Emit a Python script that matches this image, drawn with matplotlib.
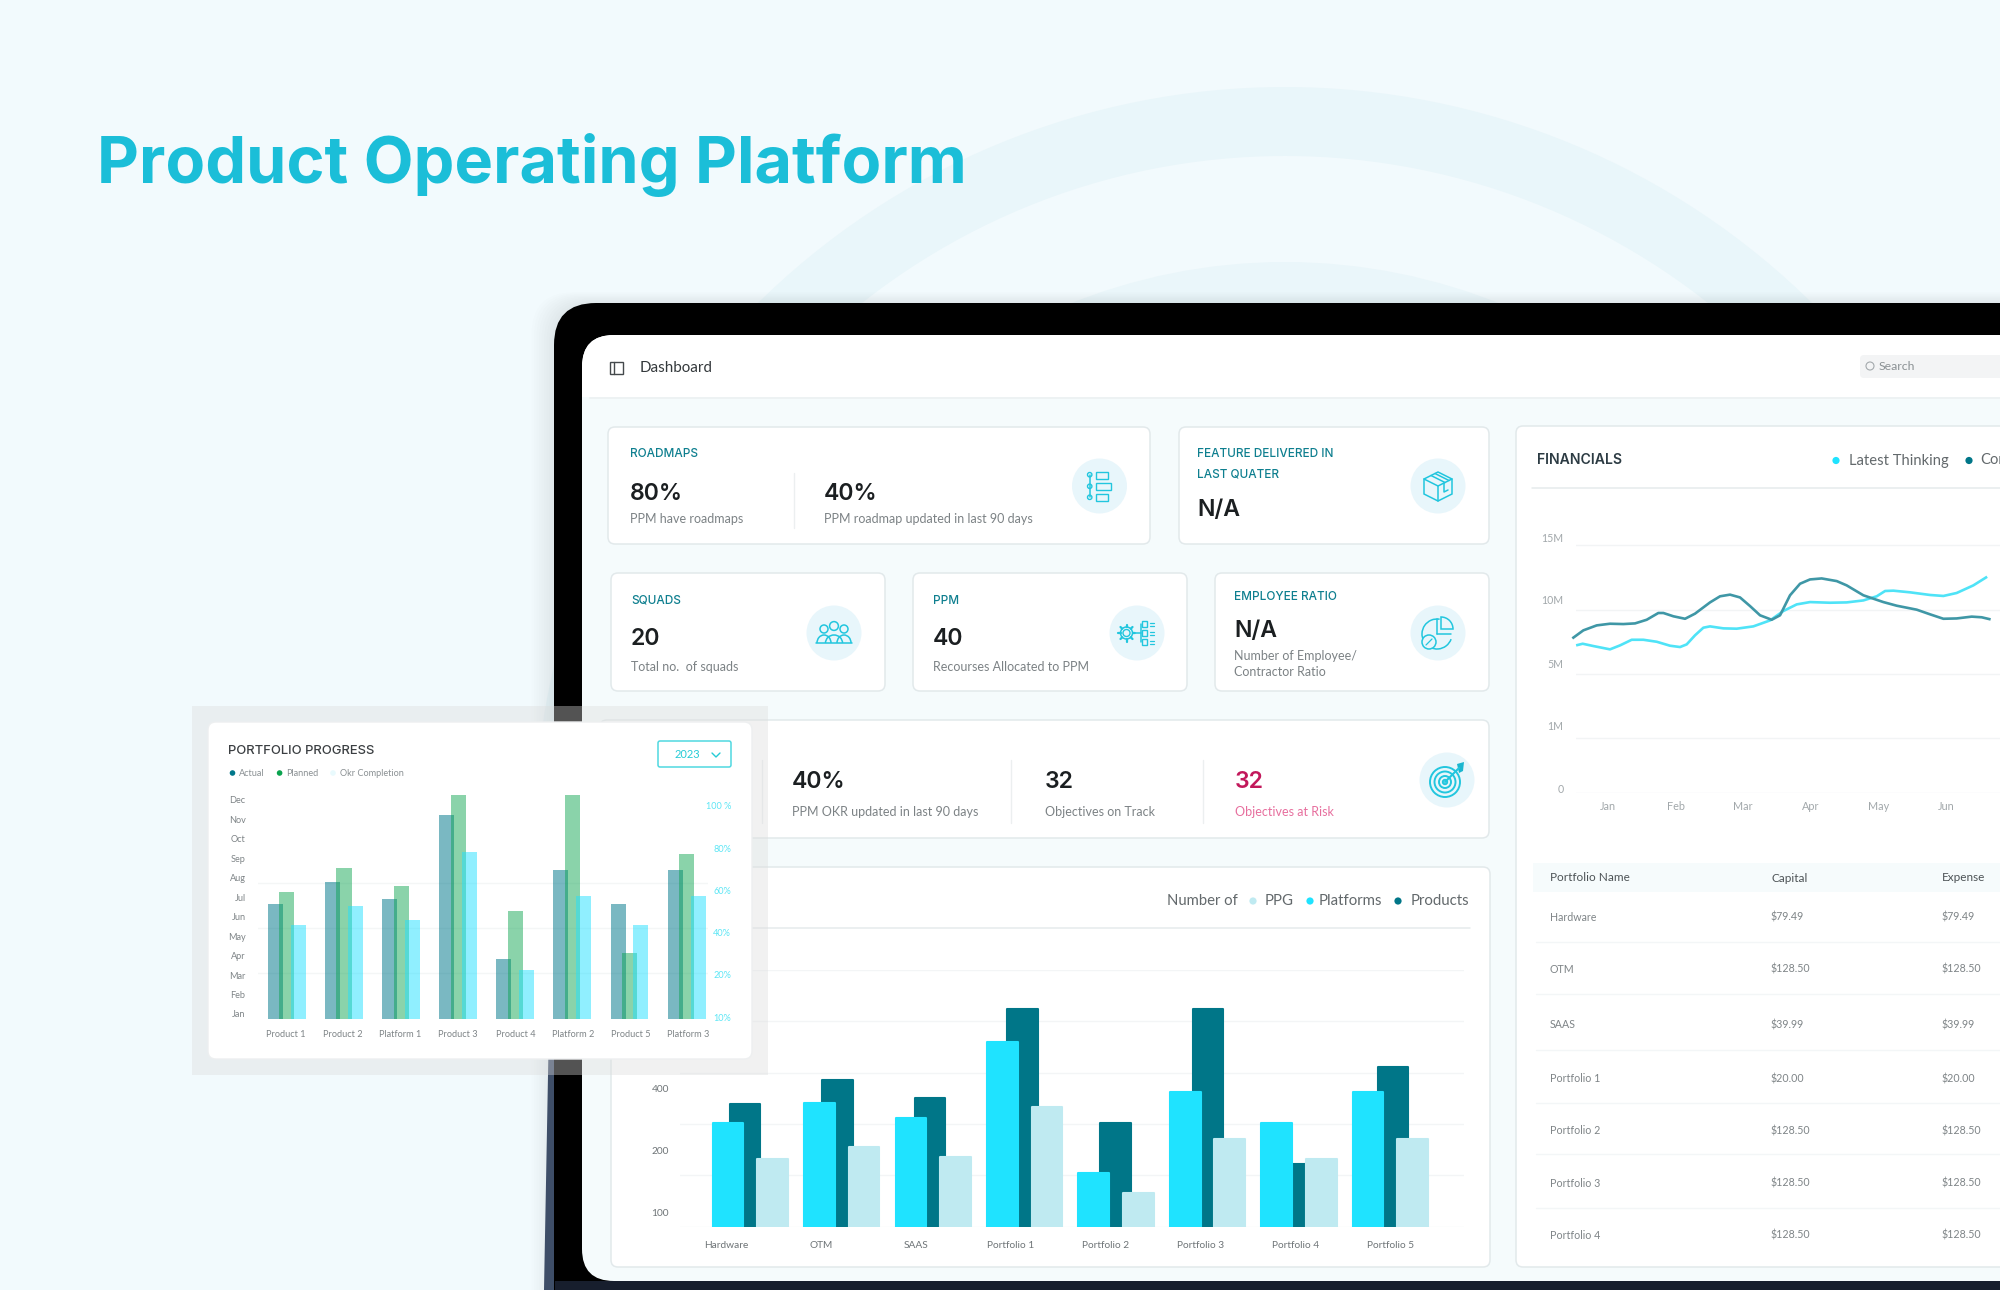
import numpy as np
import matplotlib
matplotlib.use('Agg')
import matplotlib.pyplot as plt
from matplotlib.patches import FancyBboxPatch, Rectangle, Circle, Polygon, Arc, Wedge
from matplotlib.lines import Line2D

# ---------- data ----------
main_categories = ['Hardware', 'OTM', 'SAAS', 'Portfolio 1', 'Portfolio 2', 'Portfolio 3', 'Portfolio 4', 'Portfolio 5']
products = [239, 285, 251, 425, 202, 425, 123, 312]
platforms = [202, 241, 211, 359, 104, 263, 202, 263]
ppg = [131, 156, 136, 233, 66, 170, 131, 170]
main_ytick_labels = ['100', '200', '400']

progress_categories = ['Product 1', 'Product 2', 'Platform 1', 'Product 3', 'Product 4', 'Platform 2', 'Product 5', 'Platform 3']
actual = [5.65, 6.79, 5.92, 10.2, 2.81, 7.41, 5.65, 7.41]
planned = [6.24, 7.49, 6.55, 11.26, 5.27, 11.26, 3.11, 8.2]
okr_completion = [43.8, 52.5, 46, 78, 22.2, 57.2, 43.7, 57.2]
months_full = ['Jan', 'Feb', 'Mar', 'Apr', 'May', 'Jun', 'Jul', 'Aug', 'Sep', 'Oct', 'Nov', 'Dec']
pct_labels = ['10%', '20%', '40%', '60%', '80%', '100 %']

fin_months = ['Jan', 'Feb', 'Mar', 'Apr', 'May', 'Jun']
fin_ylabels = ['0', '1M', '5M', '10M', '15M']
latest_x = [-0.447, -0.369, -0.211, 0.034, 0.182, 0.354, 0.526, 0.723, 0.919, 1.067, 1.165, 1.288, 1.411, 1.509, 1.706, 1.903, 2.148, 2.394, 2.591, 2.788, 2.984, 3.279, 3.525, 3.771, 3.968, 4.091, 4.213, 4.459, 4.754, 4.951, 5.147, 5.393, 5.580]
latest_y = [8.95, 9.03, 8.89, 8.69, 8.93, 9.27, 9.27, 9.15, 8.91, 8.83, 8.99, 9.54, 10.0, 10.08, 9.96, 9.94, 10.08, 10.44, 11.01, 11.41, 11.55, 11.51, 11.53, 11.65, 11.9, 12.22, 12.24, 12.14, 11.98, 11.92, 12.1, 12.56, 13.04]
core_x = [-0.506, -0.359, -0.162, 0.034, 0.231, 0.403, 0.575, 0.747, 0.821, 0.969, 1.141, 1.288, 1.509, 1.657, 1.804, 1.952, 2.099, 2.247, 2.419, 2.542, 2.689, 2.837, 2.984, 3.156, 3.378, 3.525, 3.771, 4.066, 4.263, 4.558, 4.754, 4.951, 5.147, 5.369, 5.516, 5.629]
core_y = [9.40, 9.84, 10.14, 10.24, 10.22, 10.26, 10.48, 10.89, 10.89, 10.69, 10.54, 10.85, 11.53, 11.9, 12.0, 11.83, 11.31, 10.75, 10.48, 10.75, 11.96, 12.66, 12.92, 12.98, 12.82, 12.56, 11.96, 11.55, 11.33, 11.09, 10.81, 10.54, 10.56, 10.67, 10.63, 10.52]

table_header = ['Portfolio Name', 'Capital', 'Expense']
table_names = ['Hardware', 'OTM', 'SAAS', 'Portfolio 1', 'Portfolio 2', 'Portfolio 3', 'Portfolio 4']
table_capital = ['$79.49', '$128.50', '$39.99', '$20.00', '$128.50', '$128.50', '$128.50']
table_expense = ['$79.49', '$128.50', '$39.99', '$20.00', '$128.50', '$128.50', '$128.50']

# ---------- style ----------
BODY = 'Lato'
HEAD = 'Inter'
TEAL = '#0E7F8F'
CYAN = '#1BBED8'
ICON = '#22C6DE'
GREY = '#7C8285'
W, H = 2000, 1290
fig = plt.figure(figsize=(20, 12.9), dpi=100, facecolor='#F2FAFD')


def px_axes(left, top, right, bottom, **kw):
    return fig.add_axes([left / W, 1 - bottom / H, (right - left) / W, (bottom - top) / H], **kw)


def layer(z):
    a = fig.add_axes([0, 0, 1, 1], zorder=z)
    a.set_xlim(0, W)
    a.set_ylim(H, 0)
    a.axis('off')
    a.patch.set_alpha(0)
    return a


def T(a, x, y, s, size=10, color=GREY, weight='normal', family=BODY, ha='left', va='center', **kw):
    return a.text(x, y, s, fontsize=size, color=color, fontweight=weight, family=family, ha=ha, va=va, **kw)


def box(a, x0, y0, x1, y1, r=6, fc='white', ec='none', lw=1, **kw):
    p = FancyBboxPatch((x0, y0), x1 - x0, y1 - y0, boxstyle=f'round,pad=0,rounding_size={r}', fc=fc, ec=ec, lw=lw, **kw)
    a.add_patch(p)
    return p


def L(a, xs, ys, c=ICON, lw=1.1):
    a.add_line(Line2D(xs, ys, color=c, lw=lw, solid_capstyle='round'))


def R(a, x0, y0, x1, y1, c=ICON, lw=1.0):
    a.add_patch(Rectangle((x0, y0), x1 - x0, y1 - y0, fc='none', ec=c, lw=lw))


# ---------- background layer ----------
bg = layer(0)
for r, col in [(751, '#E9F6FA'), (682, '#F2FAFD'), (576, '#EAF6FA')]:
    bg.add_patch(Circle((1285, 838), r, fc=col, ec='none'))
T(bg, 97, 165, 'Product Operating Platform', size=46.7, color=CYAN, weight='bold', family=HEAD)

# tablet
for i in range(10):
    box(bg, 554 - 2.5 * i, 303 - 1.2 * i, 2200, 1400, r=42, fc='#000000', alpha=0.006)
bg.add_patch(Polygon([(555, 700), (556, 1290), (544, 1290)], fc='#3E4E68', ec='none'))
box(bg, 554, 303, 2200, 1400, r=42, fc='#000000')
bg.add_patch(Rectangle((555, 1281), 1460, 12, fc='#171E2D', ec='none'))
box(bg, 582, 335, 2200, 1281, r=32, fc='#F5FBFC')
hdr = box(bg, 582, 335, 2200, 1281, r=32, fc='white')
hdr.set_clip_path(Rectangle((560, 330), 1500, 67, transform=bg.transData))
L(bg, [590, 2000], [397.5, 397.5], '#EDF2F3', 1.4)
bg.add_patch(Rectangle((609.5, 362), 13, 12, fc='none', ec='#44494C', lw=1))
L(bg, [613.5, 613.5], [362, 374], '#44494C', 1)
T(bg, 640, 368, 'Dashboard', size=10.9, color='#34393C')
box(bg, 1860, 355, 2100, 378, r=4, fc='#F3F4F5')
bg.add_patch(Circle((1870, 366), 4, fc='none', ec='#A4AAAD', lw=0.8))
T(bg, 1879, 367, 'Search', size=8.8, color='#8B9194')

# cards
cards = [(608, 427, 1150, 544), (1179, 427, 1489, 544), (611, 573, 885, 691), (913, 573, 1187, 691),
         (1215, 573, 1489, 691), (600, 720, 1489, 838), (611, 867, 1490, 1267), (1516, 426, 2200, 1267)]
for c in cards:
    box(bg, *c, r=7, fc='white', ec='#E2E9EB', lw=1.1)

HF, HS = 8.5, 16.6
DS = 9.0
DK = '#1B1F21'
T(bg, 630, 454, 'ROADMAPS', HF, TEAL, 'medium', HEAD)
T(bg, 630, 494, '80%', HS, DK, 'semibold', HEAD)
T(bg, 630, 519, 'PPM have roadmaps', DS)
L(bg, [794, 794], [473, 528], '#ECEFF0', 1)
T(bg, 824, 494, '40%', HS, DK, 'semibold', HEAD)
T(bg, 824, 519, 'PPM roadmap updated in last 90 days', DS)
T(bg, 1197, 454, 'FEATURE DELIVERED IN', HF, TEAL, 'medium', HEAD)
T(bg, 1197, 474, 'LAST QUATER', HF, TEAL, 'medium', HEAD)
T(bg, 1197, 510, 'N/A', HS, DK, 'semibold', HEAD)
T(bg, 631, 601, 'SQUADS', HF, TEAL, 'medium', HEAD)
T(bg, 631, 639, '20', HS, DK, 'semibold', HEAD)
T(bg, 631, 667, 'Total no.  of squads', DS)
T(bg, 933, 601, 'PPM', HF, TEAL, 'medium', HEAD)
T(bg, 933, 639, '40', HS, DK, 'semibold', HEAD)
T(bg, 933, 667, 'Recourses Allocated to PPM', DS)
T(bg, 1234, 597.5, 'EMPLOYEE RATIO', HF, TEAL, 'medium', HEAD)
T(bg, 1234, 631, 'N/A', HS, DK, 'semibold', HEAD)
T(bg, 1234, 656, 'Number of Employee/', DS)
T(bg, 1234, 672, 'Contractor Ratio', DS)
for xd in (762, 1011, 1203):
    L(bg, [xd, xd], [760, 823], '#ECEFF0', 1)
T(bg, 792, 782, '40%', HS, DK, 'semibold', HEAD)
T(bg, 792, 812, 'PPM OKR updated in last 90 days', DS)
T(bg, 1045, 782, '32', HS, DK, 'semibold', HEAD)
T(bg, 1045, 812, 'Objectives on Track', DS)
T(bg, 1235, 782, '32', HS, '#C2185B', 'semibold', HEAD)
T(bg, 1235, 812, 'Objectives at Risk', DS, '#E76F9E')

# icons
for cx, cy in [(1099.5, 486), (1438, 486), (834, 633), (1137, 633), (1438, 633), (1447, 780)]:
    bg.add_patch(Circle((cx, cy), 27.5, fc='#E8F6FB', ec='none'))
# roadmap
L(bg, [1089.7, 1089.7], [475, 497])
for yy in (474.7, 486.3, 497.3):
    bg.add_patch(Circle((1089.7, yy), 2.2, fc='#E8F6FB', ec=ICON, lw=1))
R(bg, 1096, 472, 1107.7, 478.7)
R(bg, 1096, 483, 1111, 490)
R(bg, 1096, 494, 1107.7, 501)
# box
bg.add_patch(Polygon([(1438, 472), (1452, 479), (1452, 494), (1438, 501), (1424, 494), (1424, 479)], fc='none', ec=ICON, lw=1.1))
L(bg, [1424, 1438, 1452], [479, 486, 479])
L(bg, [1438, 1438], [486, 501])
L(bg, [1431, 1445], [475.5, 482.5])
L(bg, [1435, 1449], [473.5, 480.5])
L(bg, [1444, 1444, 1448], [483, 492, 490])
# squads
for dx, dy, rr in [(-10, -4, 4), (10, -4, 4), (0, -7, 4.4)]:
    bg.add_patch(Circle((834 + dx, 633 + dy), rr, fc='none', ec=ICON, lw=1.1))
for dx, w0 in [(-10, 14), (10, 14), (0, 17)]:
    bg.add_patch(Arc((834 + dx, 643), w0, 16, theta1=180, theta2=360, ec=ICON, lw=1.1))
L(bg, [816, 852], [643, 643])
# ppm gear + boxes
bg.add_patch(Circle((1126.5, 633), 6, fc='none', ec=ICON, lw=1.1))
bg.add_patch(Circle((1126.5, 633), 3.5, fc='none', ec=ICON, lw=1))
for a0 in np.deg2rad(np.arange(0, 360, 45)):
    L(bg, [1126.5 + 6 * np.cos(a0), 1126.5 + 8.5 * np.cos(a0)], [633 + 6 * np.sin(a0), 633 + 8.5 * np.sin(a0)], lw=1.6)
L(bg, [1136, 1141], [633, 633])
L(bg, [1141, 1141], [624, 642])
for yy in (624, 633, 642):
    R(bg, 1142, yy - 3, 1147, yy + 3)
    L(bg, [1150, 1154], [yy - 1.5, yy - 1.5], lw=0.9)
    L(bg, [1150, 1154], [yy + 1.5, yy + 1.5], lw=0.9)
# pie
bg.add_patch(Arc((1437, 634), 30, 30, theta1=20, theta2=280, ec=ICON, lw=1.1))
L(bg, [1437, 1437], [634, 619])
L(bg, [1437, 1451], [634, 634])
bg.add_patch(Wedge((1441, 629), 12, -90, 0, fc='#E8F6FB', ec=ICON, lw=1.1))
bg.add_patch(Circle((1429, 642), 7, fc='#E8F6FB', ec=ICON, lw=1.1))
L(bg, [1426, 1432], [645, 639], lw=0.9)
# target
for rr in (15, 10.5, 6, 2.2):
    bg.add_patch(Circle((1445, 782), rr, fc='none', ec=ICON, lw=1.4))
L(bg, [1445, 1459], [782, 768], lw=1.5)
bg.add_patch(Polygon([(1457, 764), (1464, 762), (1463, 771), (1459, 773)], fc='#1BB6CF', ec='none'))

# main chart header
T(bg, 1167, 901, 'Number of', 10.7, '#63696C')
for xd, col, xt, s in [(1253, '#BFEAF1', 1265, 'PPG'), (1310, '#1FE3FF', 1319, 'Platforms'), (1398, '#007688', 1411, 'Products')]:
    bg.add_patch(Circle((xd, 901), 3.6, fc=col, ec='none'))
    T(bg, xt, 901, s, 10.8, '#63696C')
L(bg, [640, 1470], [928, 928], '#E6EBEC', 1.1)

# financials header
T(bg, 1537, 460, 'FINANCIALS', 10.1, '#2C3B43', 'semibold', HEAD)
bg.add_patch(Circle((1836, 460.5), 3.6, fc='#1FE3FF', ec='none'))
T(bg, 1849, 460.5, 'Latest Thinking', 10.6, '#63696C')
bg.add_patch(Circle((1969, 460.5), 3.6, fc='#007688', ec='none'))
T(bg, 1980, 460.5, 'Cor', 10.6, '#63696C')
L(bg, [1532, 2000], [488, 488], '#E6EBEC', 1.1)

# table
bg.add_patch(Rectangle((1533, 863), 470, 29, fc='#F6FBFC', ec='none'))
T(bg, 1550, 877.5, table_header[0], 8.5, '#4D5356')
T(bg, 1771, 879, table_header[1], 8.5, '#4D5356')
T(bg, 1942, 877.5, table_header[2], 8.5, '#4D5356')
row_y = [917, 969, 1024, 1078, 1130, 1183, 1235]
for yy, n, c0, e0 in zip(row_y, table_names, table_capital, table_expense):
    T(bg, 1550, yy + 0.5, n, 7.7, '#7E8487')
    T(bg, 1771, yy + 0.5, c0, 7.7, '#7E8487')
    T(bg, 1942, yy + 0.5, e0, 7.7, '#7E8487')
for yy in (942, 994, 1050, 1103, 1154, 1208):
    L(bg, [1536, 2000], [yy, yy], '#F3F6F7', 1)

# ---------- main bar chart ----------
ax = px_axes(680, 970, 1464, 1226.7, zorder=1)
ax.patch.set_alpha(0)
n = np.arange(len(main_categories))
bw = 0.335
for xs, vals, col in [(0.185 + n * 1.0126, products, '#007688'), (n, platforms, '#1FE3FF'), (0.487 + n, ppg, '#BFEAF1')]:
    for b in ax.bar(xs, vals, width=bw, color=col, edgecolor=col, linewidth=1.5):
        b.set_joinstyle('round')
ax.set_yticks([0, 100, 200, 300, 400, 500], minor=True)
ax.grid(which='minor', axis='y', color='#F3F5F6', lw=1)
ax.set_axisbelow(True)
ax.set_yticks([27.9, 149, 270], main_ytick_labels)
ax.set_xticks(-2 / 91.45 + n * 95 / 91.45, main_categories)
ax.set_xlim((680 - 728) / 91.45, (1464 - 728) / 91.45)
ax.set_ylim(0, 500)
ax.tick_params(axis='both', which='both', length=0)
ax.tick_params(axis='x', labelsize=7.3, labelcolor='#6E7477', pad=10.5)
ax.tick_params(axis='y', labelsize=7.3, labelcolor='#6E7477', pad=8)
for lab in ax.get_xticklabels() + ax.get_yticklabels():
    lab.set_family(BODY)
for s in ax.spines.values():
    s.set_visible(False)

# ---------- financial line chart ----------
fx = px_axes(1576, 793 - 16 * 16.53, 2000, 793, zorder=1)
fx.patch.set_alpha(0)
fx.plot(latest_x, latest_y, color='#4FE3F7', lw=1.9, clip_on=False, solid_joinstyle='round', label='Latest Thinking')
fx.plot(core_x, core_y, color='#3F97A6', lw=1.9, clip_on=False, solid_joinstyle='round', label='Core')
fx.set_yticks([0, 3.3, 7.2, 11.1, 15], minor=True)
fx.grid(which='minor', axis='y', color='#F2F4F5', lw=1)
fx.set_axisbelow(True)
fx.set_yticks([0.3, 4.11, 7.86, 11.68, 15.45], fin_ylabels)
fx.set_xticks(np.arange(len(fin_months)), fin_months)
fx.set_xlim((1576 - 1607.7) / 67.8, (2000 - 1607.7) / 67.8)
fx.set_ylim(0, 16)
fx.tick_params(axis='both', which='both', length=0)
fx.tick_params(axis='x', labelsize=7.8, labelcolor='#A2A8AB', pad=6)
fx.tick_params(axis='y', labelsize=7.6, labelcolor='#A2A8AB', pad=9)
for lab in fx.get_xticklabels() + fx.get_yticklabels():
    lab.set_family(BODY)
for s in fx.spines.values():
    s.set_visible(False)

# ---------- overlay card ----------
ov = layer(5)
ov.add_patch(Rectangle((192, 706), 576, 369, fc='#DCDCDC', ec='none', alpha=0.38))
box(ov, 208, 722, 752, 1059, r=8, fc='white', ec='#EDEFF0', lw=1)
T(ov, 228, 751.5, 'PORTFOLIO PROGRESS', 9.4, '#3B3F42', 'medium', HEAD)
for xd, col, xt, s in [(232.5, '#00778A', 239, 'Actual'), (279.6, '#0BA34F', 286, 'Planned'), (333, '#E9FAFD', 340, 'Okr Completion')]:
    ov.add_patch(Circle((xd, 773), 2.8, fc=col, ec='none'))
    T(ov, xt, 773, s, 6.6, '#8A9093')
box(ov, 658, 741, 731, 767, r=2, fc='white', ec='#4FD8E0', lw=1.1)
T(ov, 687, 755, '2023', 8, '#25CBD6', ha='center')
L(ov, [712, 716, 720], [753, 757, 753], '#25CBD6', 1)

sx = px_axes(258, 790, 707.5, 1019, zorder=6)
sx.patch.set_alpha(0)
m = np.arange(len(progress_categories))
sbw = 0.263
sx.bar(m - 0.2, actual, width=sbw, color='#00778A', alpha=0.52)
sx.bar(m, planned, width=sbw, color='#0BA34F', alpha=0.48)
sx.set_yticks(np.arange(12), months_full)
sx.set_xticks(m * 1.008 - 0.025, progress_categories)
sx.set_xlim(-0.506, 7.366)
sx.set_ylim(-0.257, 11.5)
sx.tick_params(axis='both', length=0)
sx.tick_params(axis='x', labelsize=6.6, labelcolor='#7E8487', pad=8)
sx.tick_params(axis='y', labelsize=6.6, labelcolor='#7E8487', pad=9)
for yy in (883, 928, 973):
    sx.axhline((1019 - yy) / 229 * 11.757 - 0.257, color='#F4F6F6', lw=1, zorder=0)
sr = sx.twinx()
sr.patch.set_alpha(0)
sr.bar(m + 0.2, okr_completion, width=sbw, color='#22E0FF', alpha=0.5)
sr.set_yticks([0, 20, 40, 60, 80, 100], pct_labels)
sr.set_ylim(-0.82, 107.5)
sr.tick_params(axis='y', length=0, labelsize=6.6, labelcolor='#5CE6F5', pad=17)
for lab in sr.get_yticklabels():
    lab.set_ha('right')
    lab.set_family(BODY)
for lab in sx.get_xticklabels() + sx.get_yticklabels():
    lab.set_family(BODY)
for a in (sx, sr):
    for s in a.spines.values():
        s.set_visible(False)
# bars start at the axis floor
for a, lo in ((sx, -0.257), (sr, -0.82)):
    for p in a.patches:
        top = p.get_y() + p.get_height()
        p.set_y(lo)
        p.set_height(top - lo)

fig.savefig('out.png', dpi=100, facecolor=fig.get_facecolor())
